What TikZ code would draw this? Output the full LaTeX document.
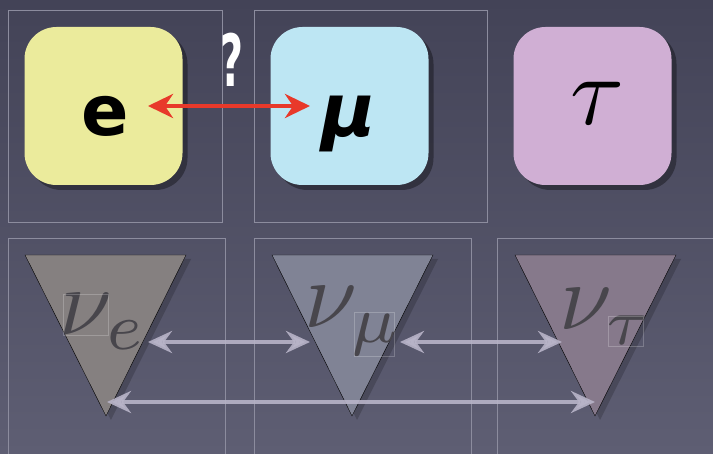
\documentclass[tikz,border=0pt]{standalone}
\usepackage{fontspec}
\usetikzlibrary{arrows.meta,shadows}
\newfontfamily\comicfont{DejaVu Sans}
\definecolor{bgtop}{HTML}{434357}
\definecolor{bgbot}{HTML}{5E5E73}
\definecolor{eyel}{HTML}{EBEB9C}
\definecolor{mublue}{HTML}{BDE6F3}
\definecolor{taulav}{HTML}{D0AFD4}
\definecolor{frame}{HTML}{8C8C9E}
\definecolor{redarr}{HTML}{E8392A}
\definecolor{grayarr}{HTML}{B8B4C8}
\definecolor{trie}{HTML}{858080}
\definecolor{trimu}{HTML}{808395}
\definecolor{tritau}{HTML}{86798B}
\definecolor{nulbl}{HTML}{48464C}
\tikzset{
  framebox/.style={draw=frame, line width=0.6pt},
  sq/.style={minimum width=158pt, minimum height=158pt, rounded corners=32pt, inner sep=0pt,
    drop shadow={shadow xshift=5pt, shadow yshift=-5pt, opacity=0.35, fill=black}},
  bigletter/.style={inner sep=0pt, text=black},
  tri/.style={drop shadow={shadow xshift=5pt, shadow yshift=-4pt, opacity=0.18, fill=black}},
  nulabel/.style={inner sep=0pt, text=nulbl, font=\fontsize{10}{12}\selectfont, anchor=base west},
  redarrow/.style={draw=redarr, line width=4.5pt, {Stealth[length=25pt,width=24pt,inset=8pt]}-{Stealth[length=25pt,width=24pt,inset=8pt]}},
  grayarrow/.style={draw=grayarr, line width=4.5pt, opacity=0.9, {Stealth[length=24pt,width=22pt,inset=8pt]}-{Stealth[length=24pt,width=22pt,inset=8pt]}},
  faintbox/.style={draw=white, opacity=0.22, line width=0.6pt},
}
\begin{document}
\begin{tikzpicture}[x=1pt,y=-1pt]
\useasboundingbox (0,0) rectangle (713,454);
\shade[top color=bgtop, bottom color=bgbot] (0,0) rectangle (713,454);

% frames
\draw[framebox] (8,10) rectangle (222,222);
\draw[framebox] (254,10) rectangle (487,222);
\draw[framebox] (8,238) rectangle (225,460);
\draw[framebox] (254,238) rectangle (471,460);
\draw[framebox] (497,238) rectangle (720,460);

% charged leptons
\node[sq, fill=eyel] (esq) at (103.5,106) {};
\node[sq, fill=mublue] (musq) at (349.5,106) {};
\node[sq, fill=taulav] (tausq) at (592.5,106) {};

\node[bigletter, font=\comicfont\bfseries\fontsize{70}{74}\selectfont] (elbl) at (105,116) {e};
\node[bigletter, font=\comicfont\bfseries\itshape\fontsize{74}{78}\selectfont] (mulbl) at (349,124) {μ};
\node[bigletter, font=\fontsize{10}{12}\selectfont, anchor=base] (taulbl) at (597,125) {\scalebox{9.8}{$\tau$}};

\node[inner sep=0pt, text=white, font=\comicfont\bfseries\fontsize{72}{76}\selectfont, xscale=0.55] (qm) at (232,60) {?};

\coordinate (redL) at (148,106);
\coordinate (redR) at (310,106);
\draw[redarrow] (redL) -- (redR);

% neutrinos
\draw[tri, fill=trie] (25,255) -- (186,255) -- (106,416) -- cycle;
\draw[tri, fill=trimu] (272,255) -- (433,255) -- (352,416) -- cycle;
\draw[tri, fill=tritau] (515,255) -- (676,255) -- (595,416) -- cycle;

\node[nulabel] (nue) at (59,335) {\scalebox{9.5}{$\nu_e$}};
\node[nulabel] (numu) at (304,328) {\scalebox{9.5}{$\nu_\mu$}};
\node[nulabel] (nutau) at (559,330) {\scalebox{9.5}{$\nu_\tau$}};

\draw[faintbox] (63,294) rectangle (108,335);
\draw[faintbox] (354,312) rectangle (394,356);
\draw[faintbox] (608,316) rectangle (643,346);

\coordinate (a1L) at (148,342);
\coordinate (a1R) at (310,342);
\coordinate (a2L) at (400,342);
\coordinate (a2R) at (562,342);
\coordinate (a3L) at (107,402);
\coordinate (a3R) at (595,402);
\draw[grayarrow] (a1L) -- (a1R);
\draw[grayarrow] (a2L) -- (a2R);
\draw[grayarrow] (a3L) -- (a3R);
\end{tikzpicture}
\end{document}
